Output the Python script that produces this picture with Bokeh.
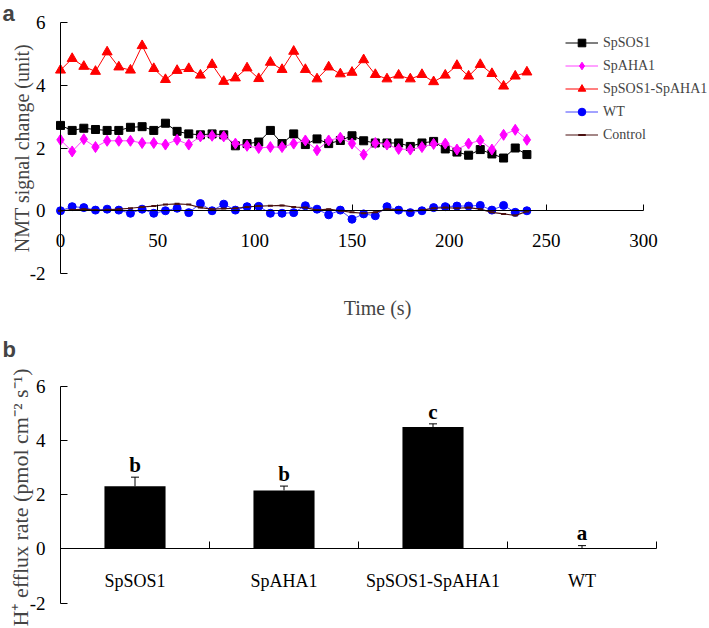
import numpy as np
from bokeh.plotting import figure
from bokeh.layouts import column
from bokeh.models import (LinearAxis, FixedTicker, Range1d, Label, Whisker, TeeHead,
                          ColumnDataSource)
from bokeh.core.properties import value
from bokeh.embed import file_html
from bokeh.resources import INLINE

# ---------------- data ----------------
time_s = list(range(0, 241, 6))
spsos1 = [2.72, 2.56, 2.63, 2.59, 2.56, 2.56, 2.66, 2.68, 2.56, 2.79, 2.53, 2.45, 2.42, 2.45,
          2.42, 2.07, 2.14, 2.19, 2.56, 2.14, 2.45, 2.11, 2.29, 2.14, 2.24, 2.39, 2.23, 2.16,
          2.16, 2.16, 2.05, 2.16, 2.21, 1.97, 1.87, 1.77, 1.95, 1.81, 1.68, 2.00, 1.79]
spaha1 = [2.26, 1.89, 2.28, 2.03, 2.23, 2.23, 2.23, 2.16, 2.16, 2.11, 2.26, 2.11, 2.37, 2.39,
          2.37, 2.14, 2.07, 2.00, 2.03, 2.03, 2.14, 2.24, 1.93, 2.24, 2.33, 2.14, 1.79, 2.16,
          2.11, 1.97, 1.95, 2.03, 2.13, 2.14, 1.95, 2.14, 2.24, 1.95, 2.42, 2.58, 2.26]
spsos1_spaha1 = [4.48, 4.85, 4.60, 4.44, 5.06, 4.58, 4.48, 5.26, 4.53, 4.18, 4.47, 4.53, 4.32,
                 4.66, 4.12, 4.23, 4.55, 4.21, 4.73, 4.50, 5.08, 4.50, 4.20, 4.58, 4.36, 4.41,
                 4.81, 4.34, 4.20, 4.32, 4.20, 4.34, 4.11, 4.32, 4.63, 4.29, 4.66, 4.37, 3.97,
                 4.29, 4.42]
wt = [0.00, 0.13, 0.10, 0.02, 0.05, 0.02, -0.08, 0.05, -0.08, 0.00, 0.08, -0.06, 0.23, 0.00,
      0.21, 0.02, 0.13, 0.14, -0.08, -0.08, -0.06, 0.16, 0.05, -0.13, 0.02, -0.27, -0.10,
      -0.16, 0.13, 0.02, -0.06, 0.00, 0.10, 0.13, 0.15, 0.15, 0.17, 0.02, 0.17, -0.05, 0.00]
control = [0.00, 0.03, 0.05, 0.02, 0.03, 0.05, 0.08, 0.12, 0.15, 0.20, 0.22, 0.20, 0.10, 0.05,
           0.07, 0.08, 0.12, 0.15, 0.16, 0.17, 0.12, 0.10, 0.02, 0.05, 0.00, -0.05, -0.08,
           -0.05, 0.05, 0.02, 0.00, 0.02, 0.08, 0.10, 0.08, 0.10, 0.05, -0.05, -0.10, -0.15,
           -0.02]

top_x_ticks = [0, 50, 100, 150, 200, 250, 300]
top_y_ticks = [-2, 0, 2, 4, 6]

bar_categories = ["SpSOS1", "SpAHA1", "SpSOS1-SpAHA1", "WT"]
bar_values = [2.31, 2.16, 4.50, 0.01]
bar_errors = [0.34, 0.16, 0.12, 0.11]
bar_letters = ["b", "b", "c", "a"]
bottom_y_ticks = [-2, 0, 2, 4, 6]

# ---------------- helpers ----------------
SERIF = "Liberation Serif"
SANS = "Liberation Sans"
LETTER_GAP = 0.45  # gap between error bar top and significance letter (data units)


def px_range(v0, p0, v1, p1, total, vertical=False):
    s = (p1 - p0) / (v1 - v0)
    at0 = v0 - p0 / s
    atT = v0 + (total - p0) / s
    return Range1d(atT, at0) if vertical else Range1d(at0, atT)


def make_fig(w, h, xr, yr):
    p = figure(width=w, height=h, x_range=xr, y_range=yr, x_axis_type=None, y_axis_type=None,
               toolbar_location=None, output_backend="svg", min_border=0,
               min_border_left=0, min_border_right=0, min_border_top=0, min_border_bottom=0)
    p.outline_line_color = None
    p.background_fill_color = "white"
    p.border_fill_color = "white"
    return p


def style_axis(ax, label_size="19px", standoff=15, tick_in=7):
    ax.axis_line_color = "black"
    ax.axis_line_width = 1
    ax.major_tick_line_color = "black"
    ax.major_tick_in = tick_in
    ax.major_tick_out = 0
    ax.minor_tick_line_color = None
    ax.major_label_standoff = standoff
    ax.major_label_text_font = SERIF
    ax.major_label_text_font_size = label_size
    ax.major_label_text_color = "black"


# ---------------- top panel ----------------
W, H1, H2 = 709, 330, 298
p1 = make_fig(W, H1, px_range(0, 60, 300, 643, W), px_range(6, 22, -2, 273, H1, vertical=True))

xa = LinearAxis(fixed_location=0, bounds=(0, 300), ticker=FixedTicker(ticks=top_x_ticks))
style_axis(xa, standoff=23, tick_in=6)
p1.add_layout(xa, "below")
ya = LinearAxis(fixed_location=0, bounds=(-2, 6), ticker=FixedTicker(ticks=top_y_ticks),
                major_label_overrides={t: str(t) for t in top_y_ticks})
style_axis(ya, standoff=15, tick_in=7)
p1.add_layout(ya, "left")

series = [
    ("SpSOS1", spsos1, "black", "black", "square", 8),
    ("SpAHA1", spaha1, "#ff44ff", "#ff00ff", "diamond", 11),
    ("SpSOS1-SpAHA1", spsos1_spaha1, "#ff0000", "#ff0000", "triangle", 10),
    ("WT", wt, "#4646ff", "#0000ff", "circle", 8),
]
for name, ys, lc, mc, mk, sz in series:
    p1.line(time_s, ys, line_color=lc, line_width=1, legend_label=name)
    p1.scatter(time_s, ys, marker=mk, size=sz, fill_color=mc, line_color=mc, legend_label=name)
p1.line(time_s, control, line_color="#4a1010", line_width=1.2, legend_label="Control")
p1.scatter(time_s, control, marker="dash", size=5, line_color="#4a1010", line_width=2,
           legend_label="Control")

lg = p1.legend[0]
lg.border_line_color = None
lg.background_fill_alpha = 0
lg.padding = 0
lg.margin = 0
lg.spacing = 4
lg.glyph_width = 33
lg.glyph_height = 19
lg.label_height = 19
lg.label_standoff = 5
lg.label_text_font = SERIF
lg.label_text_font_size = "14px"
legend_h = 5 * 19 + 4 * 4
lg.location = (565, H1 - 33 - legend_h)

p1.add_layout(Label(x=2, y=H1, x_units="screen", y_units="screen", text="a",
                    text_font=SANS, text_font_style="bold", text_font_size="22px",
                    text_baseline="top", text_align="left"))
p1.add_layout(Label(x=21, y=H1 - 147.5, x_units="screen", y_units="screen",
                    text="NMT signal change (unit)", angle=np.pi / 2,
                    text_font=SERIF, text_font_size="20px",
                    text_baseline="alphabetic", text_align="center"))
p1.add_layout(Label(x=377, y=H1 - 307, x_units="screen", y_units="screen", text="Time (s)",
                    text_font=SERIF, text_font_size="20px",
                    text_baseline="middle", text_align="center"))

# ---------------- bottom panel ----------------
n = len(bar_categories)
p2 = make_fig(W, H2, px_range(0, 60, n, 656, W), px_range(6, 56, -2, 272.5, H2, vertical=True))

centers = [i + 0.5 for i in range(n)]
xb = LinearAxis(fixed_location=0, bounds=(0, n),
                ticker=FixedTicker(ticks=centers, minor_ticks=list(range(1, n + 1))),
                major_label_overrides={c: lab for c, lab in zip(centers, bar_categories)})
style_axis(xb, label_size="18px", standoff=22, tick_in=0)
xb.major_tick_line_color = None
xb.minor_tick_line_color = "black"
xb.minor_tick_in = 7
xb.minor_tick_out = 0
p2.add_layout(xb, "below")
yb = LinearAxis(fixed_location=0, bounds=(-2, 6), ticker=FixedTicker(ticks=bottom_y_ticks),
                major_label_overrides={t: str(t) for t in bottom_y_ticks})
style_axis(yb, standoff=15, tick_in=7)
p2.add_layout(yb, "left")

upper = [v + e for v, e in zip(bar_values, bar_errors)]
src = ColumnDataSource(dict(
    x=centers, top=bar_values, upper=upper,
    letter_y=[u + LETTER_GAP for u in upper],
    letter=bar_letters))
p2.vbar(x="x", top="top", bottom=0, width=0.41, source=src, fill_color="black",
        line_color=None)
p2.add_layout(Whisker(source=src, base="x", lower="top", upper="upper", dimension="height",
                      line_color="black", line_width=1, lower_head=None,
                      upper_head=TeeHead(size=8, line_color="black", line_width=1)))
p2.text(x="x", y="letter_y", text="letter", source=src, text_align="center",
        text_baseline="middle", text_font=value(SERIF),
        text_font_style="bold", text_font_size="21px", text_color="black")

p2.add_layout(Label(x=2, y=H2 - 6, x_units="screen", y_units="screen", text="b",
                    text_font=SANS, text_font_style="bold", text_font_size="22px",
                    text_baseline="top", text_align="left"))
p2.add_layout(Label(x=20, y=H2 - 167, x_units="screen", y_units="screen",
                    text="H\u207a efflux rate (pmol cm\u207b\u00b2 s\u207b\u00b9)", angle=np.pi / 2,
                    text_font=SERIF, text_font_size="22px",
                    text_baseline="alphabetic", text_align="center"))

layout = column(p1, p2, spacing=0)
open("out.html", "w").write(file_html(layout, INLINE))
